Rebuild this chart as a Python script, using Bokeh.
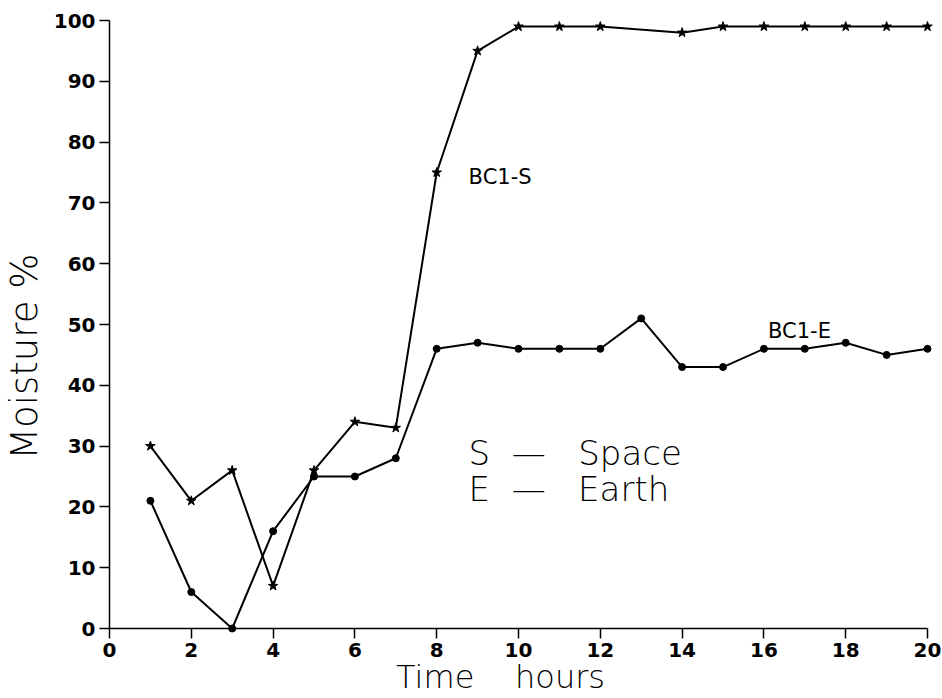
import math
from bokeh.plotting import figure
from bokeh.models import Range1d, FixedTicker
from bokeh.core.properties import value
from bokeh.embed import file_html
from bokeh.resources import INLINE

# ---- data ----
hours_s = [1, 2, 3, 4, 5, 6, 7, 8, 9, 10, 11, 12, 14, 15, 16, 17, 18, 19, 20]
moist_s = [30, 21, 26, 7, 26, 34, 33, 75, 95, 99, 99, 99, 98, 99, 99, 99, 99, 99, 99]

hours_e = [1, 2, 3, 4, 5, 6, 7, 8, 9, 10, 11, 12, 13, 14, 15, 16, 17, 18, 19, 20]
moist_e = [21, 6, 0, 16, 25, 25, 28, 46, 47, 46, 46, 46, 51, 43, 43, 46, 46, 47, 45, 46]

x_ticks = [0, 2, 4, 6, 8, 10, 12, 14, 16, 18, 20]
y_ticks = [0, 10, 20, 30, 40, 50, 60, 70, 80, 90, 100]

NB = "\u00a0"
TICK_FONT = "DejaVu Sans"
THIN_FONT = "DejaVu Sans Light, DejaVu Sans ExtraLight, Roboto Light, Lato Light, sans-serif"

p = figure(width=942, height=698, output_backend="svg", toolbar_location=None,
           x_range=Range1d(0, 20), y_range=Range1d(0, 100),
           min_border_left=109, min_border_right=15, min_border_top=20,
           min_border_bottom=70)
p.outline_line_color = None
p.xgrid.visible = False
p.ygrid.visible = False
p.background_fill_color = "white"
p.border_fill_color = "white"

for ax in (p.xaxis[0], p.yaxis[0]):
    ax.axis_line_color = "black"
    ax.axis_line_width = 1.5
    ax.major_tick_line_color = "black"
    ax.major_tick_line_width = 1.5
    ax.major_tick_out = 10
    ax.major_tick_in = 0
    ax.minor_tick_line_color = None
    ax.major_label_text_font = TICK_FONT
    ax.major_label_text_font_style = "bold"
    ax.major_label_text_font_size = "20px"
    ax.major_label_text_color = "black"

p.xaxis[0].ticker = FixedTicker(ticks=x_ticks)
p.yaxis[0].ticker = FixedTicker(ticks=y_ticks)
p.xaxis[0].major_label_standoff = 4
p.yaxis[0].major_label_standoff = 4

# series
p.line(hours_s, moist_s, line_color="black", line_width=2, level="overlay")
p.scatter(hours_s, moist_s, marker="star", size=10, fill_color="black",
          line_color="black", level="overlay")
p.line(hours_e, moist_e, line_color="black", line_width=2, level="overlay")
p.scatter(hours_e, moist_e, marker="circle", size=7, fill_color="black",
          line_color="black", level="overlay")

# in-plot annotations
p.text(x=[8.78], y=[74.2], text=["BC1-S"], text_font=value(TICK_FONT),
       text_font_size="21px", text_color="black",
       text_baseline="middle", text_align="left", level="overlay")
p.text(x=[16.1], y=[49.0], text=["BC1-E"], text_font=value(TICK_FONT),
       text_font_size="21px", text_color="black",
       text_baseline="middle", text_align="left", level="overlay")
p.text(x=[8.78, 8.78],
       y=[28.9, 23.0],
       text=["S" + NB * 2 + "\u2014" + NB * 3 + "Space",
             "E" + NB * 2 + "\u2014" + NB * 3 + "Earth"],
       text_font=value(THIN_FONT), text_font_size="34px", text_color="black",
       text_baseline="middle", text_align="left", level="overlay")

# axis titles
p.text(x=[-2.08], y=[44.7], text=["Moisture %"], angle=math.pi / 2,
       text_font=value(THIN_FONT), text_font_size="37px", text_color="black",
       text_baseline="middle", text_align="center", level="overlay")
p.text(x=[9.56], y=[-8.0], text=["Time" + NB * 4 + "hours"],
       text_font=value(THIN_FONT), text_font_size="32px", text_color="black",
       text_baseline="middle", text_align="center", level="overlay")

open("out.html", "w").write(file_html(p, INLINE))
